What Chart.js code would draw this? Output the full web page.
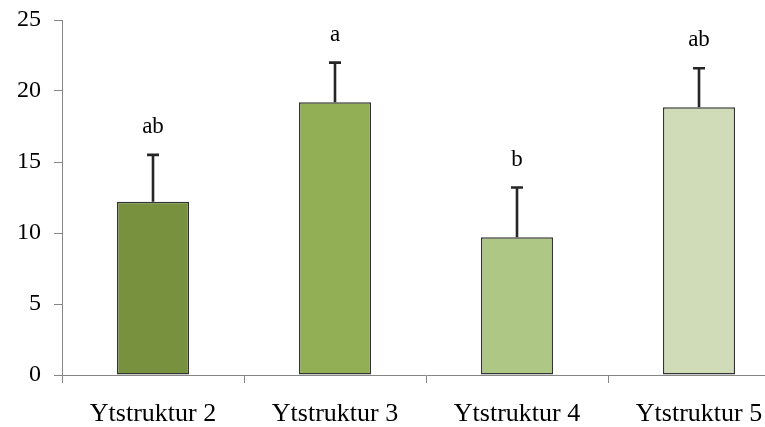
<!DOCTYPE html>
<html>
<head>
<meta charset="utf-8">
<script src="https://cdn.jsdelivr.net/npm/chart.js@4/dist/chart.umd.min.js"></script>
<style>
  html, body { margin: 0; padding: 0; background: #ffffff; overflow: hidden; width: 765px; height: 427px; }
  #wrap { position: absolute; left: 0; top: 0; width: 792px; height: 427px; }
</style>
</head>
<body>
<div id="wrap"><canvas id="chart"></canvas></div>
<script>
const categories = ['Ytstruktur 2', 'Ytstruktur 3', 'Ytstruktur 4', 'Ytstruktur 5'];
const means = [12.2, 19.2, 9.7, 18.85];
const errors = [3.3, 2.8, 3.5, 2.75];
const letters = ['ab', 'a', 'b', 'ab'];
const barColors = ['#77913f', '#92af55', '#afc785', '#cfdcb7'];
const yMin = 0, yMax = 25, yStep = 5;

const AXIS_GREY = '#868686';
const SERIF = '"Liberation Serif", "Times New Roman", serif';

// Upper error whiskers and significance letters above each bar
const whiskers = {
  id: 'whiskers',
  afterDatasetsDraw(chart) {
    const ctx = chart.ctx;
    const y = chart.scales.y;
    const meta = chart.getDatasetMeta(0);
    ctx.save();
    meta.data.forEach((bar, i) => {
      const top = y.getPixelForValue(means[i] + errors[i]);
      ctx.strokeStyle = '#262626';
      ctx.lineWidth = 2.6;
      ctx.beginPath();
      ctx.moveTo(bar.x, bar.y);
      ctx.lineTo(bar.x, top);
      ctx.moveTo(bar.x - 6, top);
      ctx.lineTo(bar.x + 6, top);
      ctx.stroke();
      ctx.fillStyle = '#000000';
      ctx.font = '23px ' + SERIF;
      ctx.textAlign = 'center';
      ctx.textBaseline = 'alphabetic';
      ctx.fillText(letters[i], bar.x, top - 22);
    });
    ctx.restore();
  }
};

new Chart(document.getElementById('chart'), {
  type: 'bar',
  data: {
    labels: categories,
    datasets: [{
      data: means,
      backgroundColor: barColors,
      borderColor: '#333333',
      borderWidth: 1.4,
      borderSkipped: false,
      categoryPercentage: 1,
      barPercentage: 0.396
    }]
  },
  options: {
    responsive: true,
    maintainAspectRatio: false,
    animation: false,
    layout: { padding: { top: 20, right: 2, left: 0, bottom: 0 } },
    plugins: { legend: { display: false }, tooltip: { enabled: false } },
    scales: {
      x: {
        grid: { display: true, drawOnChartArea: false, drawTicks: true, tickLength: 8, color: AXIS_GREY, offset: true },
        border: { display: true, color: AXIS_GREY, width: 1 },
        ticks: { color: '#000000', font: { family: SERIF, size: 26 }, padding: 16, maxRotation: 0, autoSkip: false },
        afterFit(scale) { scale.height = 52; scale.paddingLeft = 0; scale.paddingRight = 0; }
      },
      y: {
        min: yMin,
        max: yMax,
        grid: { display: true, drawOnChartArea: false, drawTicks: true, tickLength: 8, color: AXIS_GREY },
        border: { display: true, color: AXIS_GREY, width: 1 },
        ticks: { stepSize: yStep, color: '#000000', font: { family: SERIF, size: 24 }, padding: 13 },
        afterFit(scale) { scale.width = 62; scale.paddingTop = 0; scale.paddingBottom = 0; }
      }
    }
  },
  plugins: [whiskers]
});
</script>
</body>
</html>
